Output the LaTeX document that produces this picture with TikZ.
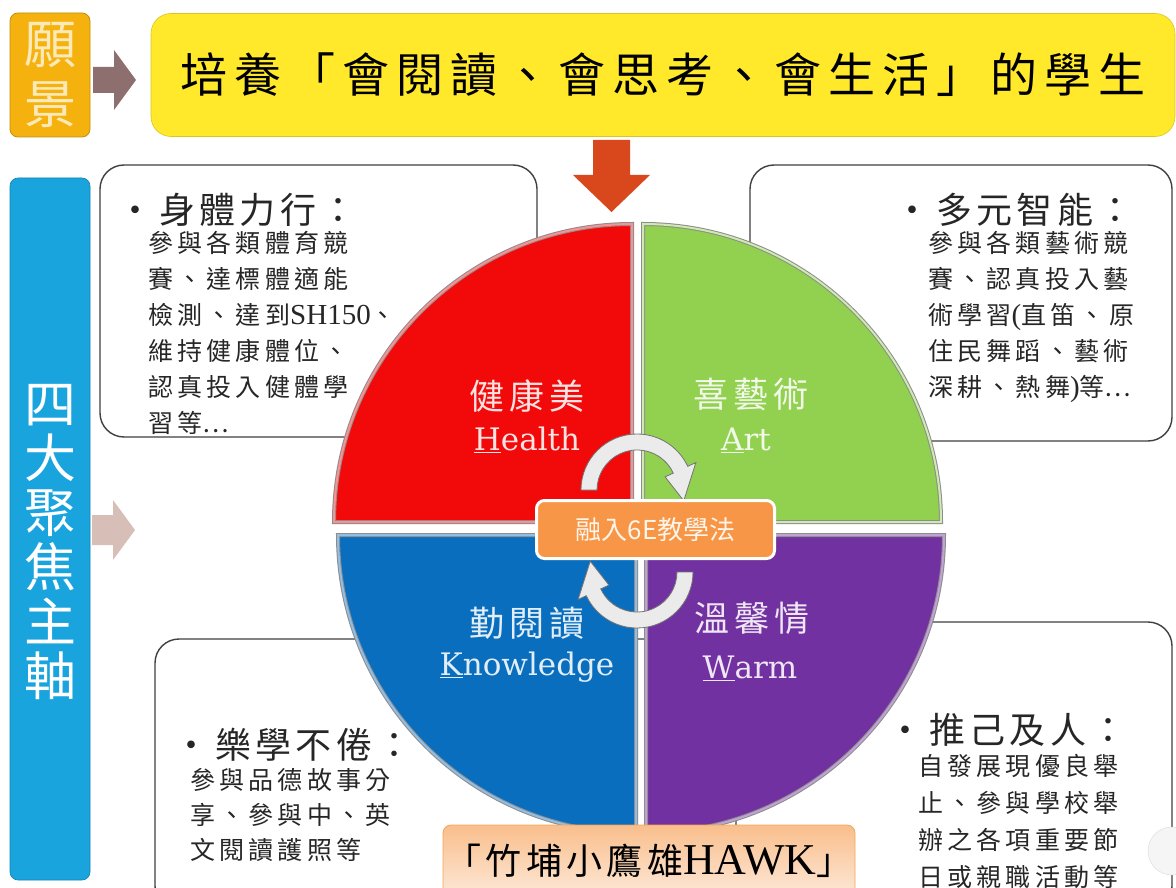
\documentclass[tikz,border=0pt]{standalone}
\usepackage{fontspec}
\setmainfont{Noto Sans CJK TC}
\newfontfamily\cjk{Noto Sans CJK TC}
\newfontfamily\cjkT[LetterSpace=15]{Noto Sans CJK TC}
\newfontfamily\cjkH[LetterSpace=12]{Noto Sans CJK TC}
\newfontfamily\cjkB[LetterSpace=17]{Noto Sans CJK TC}
\newfontfamily\latinS{DejaVu Serif}
\newfontfamily\latinT{Liberation Serif}
\newcommand\bodylatin[1]{{\latinT\fontsize{29}{36}\selectfont #1}}
\definecolor{goldbox}{HTML}{F5B20F}
\definecolor{titleyellow}{HTML}{FFE92A}
\definecolor{brownarrow}{HTML}{8E6F6F}
\definecolor{downarrow}{HTML}{D9481C}
\definecolor{leftblue}{HTML}{19A4DE}
\definecolor{pinkarrow}{HTML}{D7BEB6}
\definecolor{qred}{HTML}{F20A0A}
\definecolor{qgreen}{HTML}{92D050}
\definecolor{qblue}{HTML}{0A6EBE}
\definecolor{qpurple}{HTML}{7231A0}
\definecolor{centerorange}{HTML}{F79646}
\definecolor{visiontext}{HTML}{FBE9B7}
\definecolor{hawktop}{HTML}{F9BE8C}
\definecolor{hawkbottom}{HTML}{FDE9D8}
\begin{document}
\begin{tikzpicture}[x=1pt,y=-1pt,
  infobox/.style={draw=black!75, line width=1.4pt, rounded corners=24pt, fill=white},
  headtext/.style={anchor=west, inner sep=0pt, text=black!85, font=\cjkH\fontsize{36}{40}\selectfont},
  bodytext/.style={anchor=north west, inner sep=0pt, align=left, text=black!85, font=\cjkB\fontsize{25}{36}\selectfont},
  quad/.style={fill=#1, draw=black!45, line width=4pt},
  quadrim/.style={draw=#1!45!white, line width=2pt},
  cnlabel/.style={text=white!88!#1, font=\cjkT\fontsize{35}{40}\selectfont, inner sep=0pt},
  enlabel/.style={text=white!88!#1, font=\latinS\fontsize{31}{36}\selectfont, inner sep=0pt},
  cyclearrow/.style={fill=black!8, draw=black!55, line width=0.8pt},
  blockarrow/.style={fill=#1, draw=none}
]
\useasboundingbox (0,0) rectangle (1176,888);
\clip (0,0) rectangle (1176,888);
\fill[white] (0,0) rectangle (1176,888);

% vision row
\node[fill=goldbox, draw=goldbox!80!black, line width=0.8pt, rounded corners=8pt,
      minimum width=80pt, minimum height=124pt, align=center, inner sep=0pt,
      text=visiontext, font=\cjk\fontsize{52}{60}\selectfont] (vision) at (50,75) {願\\景};
\node[fill=titleyellow, draw=titleyellow!85!black, line width=0.6pt, rounded corners=20pt,
      minimum width=1024pt, minimum height=123pt, inner sep=0pt, text=black,
      font=\cjkT\fontsize{47}{52}\selectfont] (title) at (663,75) {培養「會閱讀、會思考、會生活」的學生};
\fill[blockarrow=brownarrow] (93,67) -- (114,67) -- (114,50) -- (136,80) -- (114,110) -- (114,93) -- (93,93) -- cycle;
\fill[blockarrow=downarrow] (593,140) -- (630,140) -- (630,175) -- (650,175) -- (611.5,212) -- (573,175) -- (593,175) -- cycle;

% focus column
\node[fill=leftblue, draw=leftblue!80!black, line width=0.6pt, rounded corners=8pt,
      minimum width=80pt, minimum height=702pt, inner sep=0pt] (focus) at (50,529) {};
\node[align=center, inner sep=0pt, text=white, font=\cjk\fontsize{52}{54.5}\selectfont] (focustext) at (50,542) {四\\大\\聚\\焦\\主\\軸};
\fill[blockarrow=pinkarrow] (92,515) -- (113,515) -- (113,500) -- (135,530) -- (113,560) -- (113,545) -- (92,545) -- cycle;

% info boxes
\node[infobox, minimum width=437pt, minimum height=272pt] (boxTL) at (318.5,301) {};
\node[infobox, minimum width=422pt, minimum height=276pt] (boxTR) at (961,303) {};
\node[infobox, minimum width=545pt, minimum height=271pt] (boxBL) at (427.5,774.5) {};
\node[infobox, minimum width=436pt, minimum height=288pt] (boxBR) at (954,766) {};

\node[headtext] (headTL) at (117,210) {{\cjk •}\hspace{6pt}身體力行：};
\node[bodytext] (bodyTL) at (148,231) {參與各類體育競\\賽、達標體適能\\檢測、達到\bodylatin{SH150}、\\維持健康體位、\\認真投入健體學\\習等{\cjk …}};
\node[headtext] (headTR) at (894,210) {{\cjk •}\hspace{6pt}多元智能：};
\node[bodytext] (bodyTR) at (928,231) {參與各類藝術競\\賽、認真投入藝\\術學習\bodylatin{(}直笛、原\\住民舞蹈、藝術\\深耕、熱舞\bodylatin{)}等{\cjk …}};
\node[headtext] (headBL) at (173,745) {{\cjk •}\hspace{6pt}樂學不倦：};
\node[bodytext, font=\cjkB\fontsize{25}{35}\selectfont] (bodyBL) at (190,768) {參與品德故事分\\享、參與中、英\\文閱讀護照等};
\node[headtext] (headBR) at (887,730) {{\cjk •}\hspace{6pt}推己及人：};
\node[bodytext, font=\cjkB\fontsize{25}{37}\selectfont] (bodyBR) at (918,754) {自發展現優良舉\\止、參與學校舉\\辦之各項重要節\\日或親職活動等};

% pie quadrants
\path[quad=qred] (632,522) -- ++(-298,0) arc[start angle=180, end angle=270, radius=298] -- cycle;
\path[quadrim=qred] (632,522) -- ++(-298,0) arc[start angle=180, end angle=270, radius=298] -- cycle;
\path[quad=qgreen] (643,522) -- ++(0,-298) arc[start angle=270, end angle=360, radius=298] -- cycle;
\path[quadrim=qgreen] (643,522) -- ++(0,-298) arc[start angle=270, end angle=360, radius=298] -- cycle;
\path[quad=qblue] (636,535) -- ++(0,298) arc[start angle=90, end angle=180, radius=298] -- cycle;
\path[quadrim=qblue] (636,535) -- ++(0,298) arc[start angle=90, end angle=180, radius=298] -- cycle;
\path[quad=qpurple] (646,535) -- ++(298,0) arc[start angle=0, end angle=90, radius=298] -- cycle;
\path[quadrim=qpurple] (646,535) -- ++(298,0) arc[start angle=0, end angle=90, radius=298] -- cycle;

\node[cnlabel=qred] (healthcn) at (527,396) {健康美};
\node[enlabel=qred] (healthen) at (527,440) {\underline{H}ealth};
\node[cnlabel=qgreen] (artcn) at (751,394) {喜藝術};
\node[enlabel=qgreen] (arten) at (746,440) {\underline{A}rt};
\node[cnlabel=qblue] (knowcn) at (527,623) {勤閱讀};
\node[enlabel=qblue] (knowen) at (527,667) {\underline{K}nowledge};
\node[cnlabel=qpurple] (warmcn) at (752,618) {溫馨情};
\node[enlabel=qpurple] (warmen) at (750,668) {\underline{W}arm};

% cycle arrows
\begin{scope}[shift={(637,490)}]
\path[cyclearrow] (180:40) -- (180:56) arc[start angle=180, end angle=335, radius=56] -- (335:65) -- (13:48) -- (335:31) -- (335:40) arc[start angle=335, end angle=180, radius=40] -- cycle;
\end{scope}
\begin{scope}[shift={(637,572)}]
\path[cyclearrow] (0:40) -- (0:56) arc[start angle=0, end angle=155, radius=56] -- (155:65) -- (193:48) -- (155:31) -- (155:40) arc[start angle=155, end angle=0, radius=40] -- cycle;
\end{scope}

\node[fill=centerorange, draw=white, line width=3pt, rounded corners=8pt,
      minimum width=238pt, minimum height=58pt, inner sep=0pt, text=white!92!orange,
      font=\cjk\fontsize{26}{30}\selectfont] (method) at (655.5,529.5) {融入6E教學法};

% bottom banner
\node[draw=orange!70!brown!70, line width=0.8pt, rounded corners=8pt, top color=hawktop,
      bottom color=hawkbottom, minimum width=412pt, minimum height=72pt, inner sep=0pt,
      text=black, font=\cjkH\fontsize{36}{44}\selectfont] (hawk) at (649,861) {「竹埔小鷹雄{\latinT\fontsize{44}{44}\selectfont HAWK}」};

% faint slide button at right edge
\node[circle, fill=black!4, draw=black!15, minimum size=48pt, inner sep=0pt] (navbtn) at (1172,851) {};
\end{tikzpicture}
\end{document}
